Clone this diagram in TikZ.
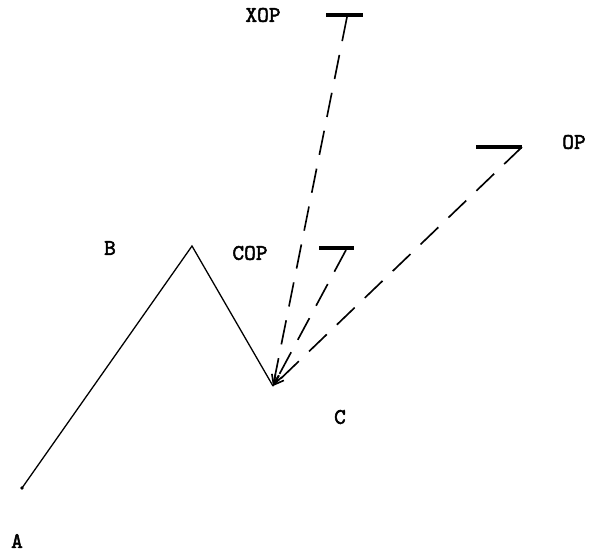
\documentclass[tikz,border=0pt]{standalone}
\usepackage{fontspec}
\setmonofont{lmmono10-regular.otf}[AutoFakeBold=2.2]
\usetikzlibrary{arrows.meta, positioning}
\tikzset{
  wave/.style   = {black, line width=1.1pt, line cap=round},
  proj/.style   = {black, line width=1.4pt, dash pattern=on 21pt off 12pt, -{Straight Barb[length=8pt, width=6pt]}},
  tgtbar/.style = {black, line width=2.6pt},
  lbl/.style    = {font=\fontsize{19}{21}\selectfont\ttfamily\bfseries, inner sep=0pt},
}

\begin{document}
\begin{tikzpicture}[x=0.03cm, y=-0.03cm]
  \useasboundingbox (0,0) rectangle (592,552);

  % price swing
  \coordinate (A) at (22,488);
  \coordinate (B) at (192,246);
  \coordinate (C) at (273,386);
  \draw[wave] (A) -- (B) -- (C);
  \fill (A) circle (1.6pt);

  % target bars
  \coordinate (xopL) at (326,15);  \coordinate (xopR) at (363,15);
  \coordinate (copL) at (319,248); \coordinate (copR) at (354,248);
  \coordinate (opL)  at (476,147); \coordinate (opR)  at (522,147);
  \draw[tgtbar] (xopL) -- (xopR);
  \draw[tgtbar] (copL) -- (copR);
  \draw[tgtbar] (opL) -- (opR);

  % projections back to C
  \coordinate (xopT) at (347,17);
  \coordinate (copT) at (346,250);
  \draw[proj] (xopT) -- (C);
  \draw[proj] (copT) -- (C);
  \draw[proj] (opR) -- (C);

  % labels
  \node[lbl] (labA)   at (17,541)  {A};
  \node[lbl] (labB)   at (110,248) {B};
  \node[lbl] (labC)   at (340,417) {C};
  \node[lbl] (labCOP) at (250,253) {COP};
  \node[lbl] (labXOP) at (263,15)  {XOP};
  \node[lbl] (labOP)  at (574,142) {OP};
\end{tikzpicture}
\end{document}
